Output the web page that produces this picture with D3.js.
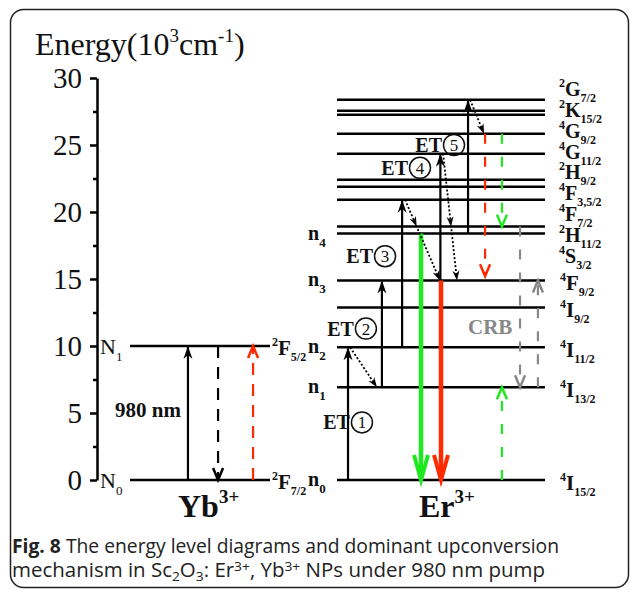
<!DOCTYPE html>
<html>
<head>
<meta charset="utf-8">
<script src="https://cdn.jsdelivr.net/npm/d3@7"></script>
<style>
    html, body { margin: 0; padding: 0; background: #fff; }
    svg { display: block; }
</style>
</head>
<body>
<div id="diagram"></div>
<script>
// Energy axis ticks (10^3 cm^-1)
const majorTicks = [0, 5, 10, 15, 20, 25, 30];
const minorTicks = [2.5, 7.5, 12.5, 17.5, 22.5, 27.5];

// Yb3+ levels and their term symbols [multiplicity, letter, J]
const ybLevels = [0, 10];
const ybTerms = [["2", "F", "7/2"], ["2", "F", "5/2"]];
const ybTags = ["0", "1"];

// Er3+ levels, bottom to top
const erLevels = [0, 6.92, 9.90, 12.88, 14.89, 18.39, 18.91, 20.92, 21.89, 22.41, 24.35, 25.84, 27.25, 27.55, 28.37];
const erLowTermLevels = [0, 6.92, 9.90, 12.88, 14.89];
const erLowTerms = [["4", "I", "15/2"], ["4", "I", "13/2"], ["4", "I", "11/2"], ["4", "I", "9/2"], ["4", "F", "9/2"]];
// upper terms, top to bottom (4F3/2 and 4F5/2 share one label)
const erHighTerms = [["2", "G", "7/2"], ["2", "K", "15/2"], ["4", "G", "9/2"], ["4", "G", "11/2"], ["2", "H", "9/2"],
    ["4", "F", "3,5/2"], ["4", "F", "7/2"], ["2", "H", "11/2"], ["4", "S", "3/2"]];
const erTagLevels = [0, 6.92, 9.90, 14.89, 18.39];
const erTags = ["0", "1", "2", "3", "4"];

// Transitions, pos = place along the level line (0 = left end, 1 = right end)
const ybArrows = [
    { pos: 0.414, from: 0, to: 10, style: "solid", color: "#000" },
    { pos: 0.629, from: 10, to: 0, style: "dash", color: "#000" },
    { pos: 0.879, from: 0, to: 10, style: "dash", color: "#ff2a00" }
];
const erArrows = [
    { pos: 0.053, from: 0, to: 9.90, style: "solid", color: "#000" },
    { pos: 0.216, from: 6.92, to: 14.89, style: "solid", color: "#000" },
    { pos: 0.313, from: 9.90, to: 20.92, style: "solid", color: "#000" },
    { pos: 0.497, from: 14.89, to: 24.35, style: "solid", color: "#000" },
    { pos: 0.630, from: 18.39, to: 28.37, style: "solid", color: "#000" },
    { pos: 0.404, from: 18.39, to: 0, style: "thick", color: "#1ee81e" },
    { pos: 0.500, from: 14.89, to: 0, style: "thick", color: "#ff2a00" },
    { pos: 0.712, from: 25.84, to: 15.2, style: "dash", color: "#ff2a00" },
    { pos: 0.793, from: 25.84, to: 18.91, style: "dash", color: "#1ee81e" },
    { pos: 0.793, from: 0, to: 6.92, style: "dash", color: "#1ee81e" },
    { pos: 0.880, from: 18.91, to: 6.92, style: "dash", color: "#888" },
    { pos: 0.966, from: 6.92, to: 14.89, style: "dash", color: "#888" }
];
// non-radiative / energy transfer steps, [pos, energy]
const dottedArrows = [
    { from: [0.063, 9.90], to: [0.192, 6.92], via: null },
    { from: [0.327, 20.92], to: [0.495, 14.89], via: 18.91 },
    { from: [0.510, 24.35], to: [0.577, 14.89], via: 18.91 },
    { from: [0.640, 28.37], to: [0.707, 25.84], via: null }
];
// ET step labels
const etNumbers = ["1", "2", "3", "4", "5"];
const etPos = [0.12, 0.139, 0.231, 0.399, 0.5625];
const etEnergy = [4.3, 11.3, 16.7, 23.3, 25.0];

class EnergyDiagram {

    constructor() {
        this.width = 630;
        this.height = 590;
        this.serif = "'Liberation Serif', Tinos, 'Times New Roman', Times, serif";
        this.y = d3.scaleLinear().domain([0, 30]).range([480, 78]);
        this.xYb = d3.scaleLinear().domain([0, 1]).range([130, 270]);
        this.xEr = d3.scaleLinear().domain([0, 1]).range([337, 545]);
    }

    create_frame(svg) {
        svg.append("rect")
            .attr("x", 10.5).attr("y", 9.5)
            .attr("width", 618).attr("height", 578)
            .attr("rx", 13).attr("ry", 13)
            .style("fill", "none")
            .style("stroke", "#222")
            .style("stroke-width", 1.5);
    }

    create_y_axis(svg) {
        var axis = svg.append("g")
            .attr("transform", "translate(97,0)")
            .call(d3.axisLeft(this.y).tickValues(majorTicks).tickSize(7).tickSizeOuter(0).tickPadding(8));
        axis.attr("font-family", null);
        axis.select(".domain").style("stroke-width", 2.5).style("stroke", "#000");
        axis.selectAll(".tick line").style("stroke-width", 2.5).style("stroke", "#000");
        axis.selectAll(".tick text")
            .style("font-family", this.serif)
            .style("font-size", "29px")
            .style("fill", "#111");

        var minor = svg.append("g")
            .attr("transform", "translate(97,0)")
            .call(d3.axisLeft(this.y).tickValues(minorTicks).tickSize(4).tickFormat(""));
        minor.select(".domain").remove();
        minor.selectAll(".tick line").style("stroke-width", 2.5).style("stroke", "#000");

        // axis title
        var title = svg.append("text")
            .attr("x", 35).attr("y", 55)
            .style("font-family", this.serif)
            .style("font-size", "32px")
            .style("fill", "#111");
        title.append("tspan").text("Energy(10");
        title.append("tspan").attr("dy", -13).style("font-size", "19px").text("3");
        title.append("tspan").attr("dy", 13).text("cm");
        title.append("tspan").attr("dy", -13).style("font-size", "19px").text("-1");
        title.append("tspan").attr("dy", 13).text(")");
    }

    term(svg, x, base, t, big) {
        var text = svg.append("text")
            .attr("x", x).attr("y", base)
            .style("font-family", this.serif)
            .style("font-weight", "bold")
            .style("fill", "#111");
        text.append("tspan").attr("dy", -9).style("font-size", "12px").text(t[0]);
        text.append("tspan").attr("dy", 9).style("font-size", big + "px").text(t[1]);
        text.append("tspan").attr("dy", 6).style("font-size", "12px").text(t[2]);
    }

    tag(svg, x, base, letter, sub, bold, size) {
        var text = svg.append("text")
            .attr("x", x).attr("y", base)
            .style("font-family", this.serif)
            .style("font-weight", bold ? "bold" : "normal")
            .style("fill", "#111");
        text.append("tspan").style("font-size", size + "px").text(letter);
        text.append("tspan").attr("dy", 7).style("font-size", "13px").text(sub);
    }

    ion_label(svg, x, base, name) {
        var text = svg.append("text")
            .attr("x", x).attr("y", base)
            .style("font-family", this.serif)
            .style("font-weight", "bold")
            .style("fill", "#111");
        text.append("tspan").style("font-size", "32px").text(name);
        text.append("tspan").attr("dy", -14).style("font-size", "19px").text("3+");
    }

    // arrowhead: tip point, unit direction towards tip
    head(svg, tip, u, w, l, color, filled, sw) {
        var back = [tip[0] - u[0] * l, tip[1] - u[1] * l];
        var n = [-u[1], u[0]];
        var left = [back[0] + n[0] * w, back[1] + n[1] * w];
        var right = [back[0] - n[0] * w, back[1] - n[1] * w];
        if (filled) {
            var notch = [tip[0] - u[0] * l * 0.7, tip[1] - u[1] * l * 0.7];
            svg.append("path")
                .attr("d", d3.line()([tip, left, notch, right]) + "Z")
                .style("fill", color)
                .style("stroke", "none");
        } else {
            svg.append("path")
                .attr("d", d3.line()([left, tip, right]))
                .style("fill", "none")
                .style("stroke", color)
                .style("stroke-width", sw)
                .style("stroke-linejoin", "miter");
        }
    }

    draw_arrows(svg, arrows, x) {
        var self = this;
        arrows.forEach(function (a) {
            var px = x(a.pos);
            var y1 = self.y(a.from);
            var y2 = self.y(a.to);
            var dir = y2 > y1 ? 1 : -1;
            var sw = a.style === "thick" ? 4.5 : 2.2;
            var line = svg.append("line")
                .attr("x1", px).attr("x2", px)
                .attr("y1", y1).attr("y2", y2 - dir * (a.style === "thick" ? 3 : 1))
                .style("stroke", a.color)
                .style("stroke-width", sw);
            if (a.style === "dash") {
                line.style("stroke-dasharray", x === self.xYb ? "12,9" : "10,13");
            }
            if (a.style === "solid") {
                self.head(svg, [px, y2], [0, dir], 4.5, 13, a.color, true, 0);
            } else if (a.style === "thick") {
                self.head(svg, [px, y2], [0, dir], 7, 25, a.color, false, 4);
            } else {
                self.head(svg, [px, y2], [0, dir], 5, 12, a.color, false, 2.5);
            }
        });
    }

    draw_dotted(svg) {
        var self = this;
        dottedArrows.forEach(function (d) {
            var p0 = [self.xEr(d.from[0]), self.y(d.from[1])];
            var p1 = [self.xEr(d.to[0]), self.y(d.to[1])];
            var len = Math.hypot(p1[0] - p0[0], p1[1] - p0[1]);
            var u = [(p1[0] - p0[0]) / len, (p1[1] - p0[1]) / len];
            svg.append("line")
                .attr("x1", p0[0]).attr("y1", p0[1])
                .attr("x2", p1[0] - u[0] * 4).attr("y2", p1[1] - u[1] * 4)
                .style("stroke", "#000")
                .style("stroke-width", 1.8)
                .style("stroke-dasharray", "2,2");
            self.head(svg, p1, u, 3.5, 10, "#000", true, 0);
            if (d.via !== null) {
                var yv = self.y(d.via);
                var t = (yv - p0[1]) / (p1[1] - p0[1]);
                self.head(svg, [p0[0] + t * (p1[0] - p0[0]), yv], u, 3.5, 10, "#000", true, 0);
            }
        });
    }

    draw_et_labels(svg) {
        var self = this;
        etNumbers.forEach(function (num, i) {
            var cx = self.xEr(etPos[i]);
            var cy = self.y(etEnergy[i]);
            svg.append("text")
                .attr("x", cx - 12).attr("y", cy + 7)
                .attr("text-anchor", "end")
                .style("font-family", self.serif)
                .style("font-weight", "bold")
                .style("font-size", "20px")
                .style("fill", "#111")
                .text("ET");
            svg.append("circle")
                .attr("cx", cx).attr("cy", cy).attr("r", 10.5)
                .style("fill", "none")
                .style("stroke", "#111")
                .style("stroke-width", 1.5);
            svg.append("text")
                .attr("x", cx).attr("y", cy + 6)
                .attr("text-anchor", "middle")
                .style("font-family", self.serif)
                .style("font-size", "17px")
                .style("fill", "#111")
                .text(num);
        });

        svg.append("text")
            .attr("x", 468).attr("y", 334)
            .style("font-family", this.serif)
            .style("font-weight", "bold")
            .style("font-size", "21px")
            .style("fill", "#888")
            .text("CRB");
    }

    draw_levels(svg) {
        var self = this;
        // Yb3+
        svg.selectAll(".yb-level")
            .data(ybLevels)
            .enter()
            .append("line")
            .attr("x1", this.xYb(0)).attr("x2", this.xYb(1))
            .attr("y1", function (d) { return self.y(d); })
            .attr("y2", function (d) { return self.y(d); })
            .style("stroke", "#000")
            .style("stroke-width", 2.5);
        ybLevels.forEach(function (e, i) {
            self.term(svg, 272, self.y(e) + 9, ybTerms[i], 21);
            self.tag(svg, 100, self.y(e) + 8, "N", ybTags[i], false, 22);
        });

        // Er3+
        svg.selectAll(".er-level")
            .data(erLevels)
            .enter()
            .append("line")
            .attr("x1", this.xEr(0)).attr("x2", this.xEr(1))
            .attr("y1", function (d) { return self.y(d); })
            .attr("y2", function (d) { return self.y(d); })
            .style("stroke", "#000")
            .style("stroke-width", 2.5);
        erLowTermLevels.forEach(function (e, i) {
            self.term(svg, 560, self.y(e) + 10, erLowTerms[i], 21);
        });
        var top = this.y(d3.max(erLevels)) - 4;
        erHighTerms.forEach(function (t, i) {
            self.term(svg, 559, top + i * 20.9, t, 20);
        });
        erTagLevels.forEach(function (e, i) {
            self.tag(svg, 308, self.y(e) + 6, "n", erTags[i], true, 20);
        });

        this.ion_label(svg, 178, 517, "Yb");
        this.ion_label(svg, 419, 517, "Er");

        svg.append("text")
            .attr("x", 115).attr("y", 417)
            .style("font-family", this.serif)
            .style("font-weight", "bold")
            .style("font-size", "21px")
            .style("fill", "#111")
            .text("980 nm");
    }

    create_caption(svg) {
        var font = "'Open Sans', 'Noto Sans', sans-serif";
        var line1 = svg.append("text")
            .attr("x", 12).attr("y", 553)
            .style("font-family", font)
            .style("font-size", "19.3px")
            .style("fill", "#222");
        line1.append("tspan").style("font-weight", "bold").text("Fig. 8");
        line1.append("tspan").text(" The energy level diagrams and dominant upconversion");

        var line2 = svg.append("text")
            .attr("x", 12).attr("y", 577)
            .attr("textLength", 533)
            .attr("lengthAdjust", "spacingAndGlyphs")
            .style("font-family", font)
            .style("font-size", "19.3px")
            .style("fill", "#222");
        // [text, dy, small]
        var parts = [["mechanism in Sc", 0, false], ["2", 4, true], ["O", -4, false], ["3", 4, true],
            [": Er", -4, false], ["3+", -6, true], [", Yb", 6, false], ["3+", -6, true],
            [" NPs under 980 nm pump", 6, false]];
        parts.forEach(function (p) {
            line2.append("tspan")
                .attr("dy", p[1])
                .style("font-size", p[2] ? "13px" : "19.3px")
                .text(p[0]);
        });
    }

    render() {
        var svg = d3.select("#diagram")
            .append("svg")
            .attr("width", this.width)
            .attr("height", this.height);

        this.create_frame(svg);
        this.create_y_axis(svg);
        this.draw_levels(svg);
        this.draw_arrows(svg, ybArrows, this.xYb);
        this.draw_arrows(svg, erArrows, this.xEr);
        this.draw_dotted(svg);
        this.draw_et_labels(svg);
        this.create_caption(svg);
    }
}

new EnergyDiagram().render();
</script>
</body>
</html>
